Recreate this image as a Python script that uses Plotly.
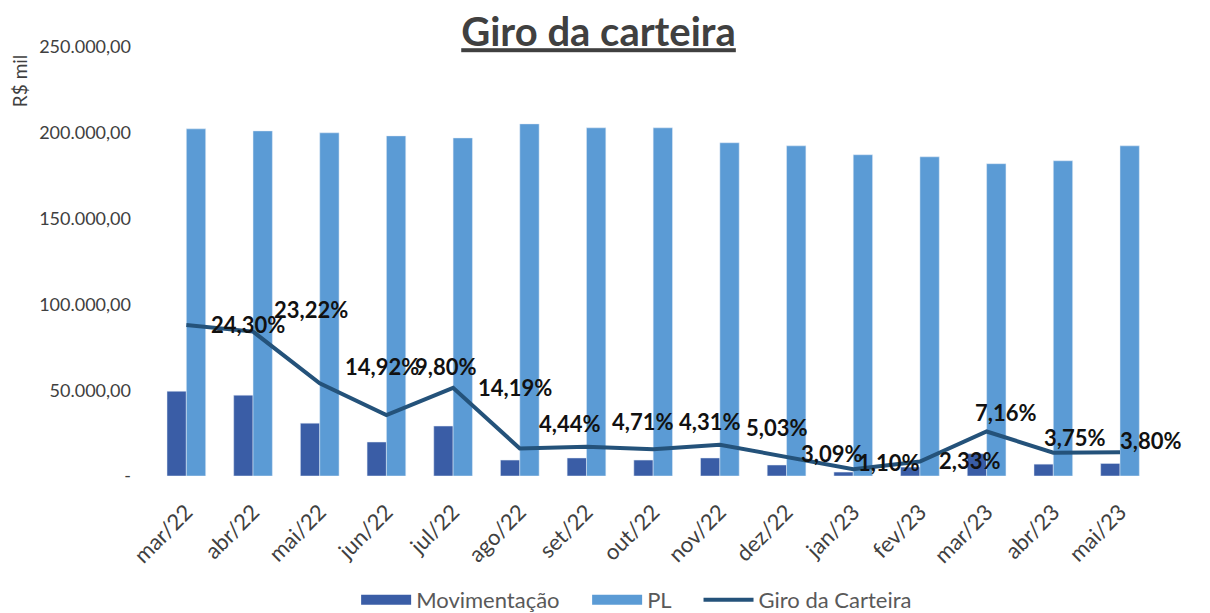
import plotly.graph_objects as go

meses = ["mar/22", "abr/22", "mai/22", "jun/22", "jul/22", "ago/22", "set/22", "out/22",
         "nov/22", "dez/22", "jan/23", "fev/23", "mar/23", "abr/23", "mai/23"]
pl = [202300, 201100, 200000, 198200, 197000, 205200, 202900, 202900,
      194200, 192400, 187200, 186000, 182000, 183700, 192400]
movimentacao = [49400, 47100, 30800, 19800, 29100, 9300, 10500, 9300,
                10500, 6400, 2300, 5200, 13000, 6900, 7300]
giro = [24.30, 23.22, 14.92, 9.80, 14.19, 4.44, 4.71, 4.31, 5.03, 3.09, 1.10, 2.33, 7.16, 3.75, 3.80]
y_ticks = [0, 50000, 100000, 150000, 200000, 250000]
y_tick_labels = ["-", "50.000,00", "100.000,00", "150.000,00", "200.000,00", "250.000,00"]

# label offsets (pixels) relative to each point: (xshift, yshift)
label_offsets = [(24, 0), (20, 22), (24, 17), (28, 49), (24, 0), (18, 25), (25, 25), (25, 28),
                 (25, 17), (13, 3), (4, 7), (18, 1), (-13, 19), (-10, 15), (-1, 12)]

FONT = "Lato, Open Sans, sans-serif"
C_MOV = "#3A5DA6"
C_PL = "#5B9BD5"
C_LINE = "#24527A"
PAD = "\u00a0" * 4

fig = go.Figure()
fig.add_trace(go.Bar(x=meses, y=movimentacao, name="Movimentação", marker_color=C_MOV, showlegend=False))
fig.add_trace(go.Bar(x=meses, y=pl, name="PL", marker_color=C_PL, showlegend=False))
# legend entries drawn as wide blocks
fig.add_trace(go.Scatter(x=[None], y=[None], mode="lines", name="Movimentação" + PAD,
                         line=dict(color=C_MOV, width=14)))
fig.add_trace(go.Scatter(x=[None], y=[None], mode="lines", name="PL" + PAD,
                         line=dict(color=C_PL, width=14)))
fig.add_trace(go.Scatter(x=meses, y=giro, name="Giro da Carteira", mode="lines",
                         line=dict(color=C_LINE, width=4), yaxis="y2"))

for m, g, (dx, dy) in zip(meses, giro, label_offsets):
    fig.add_annotation(x=m, y=g, xref="x", yref="y2",
                       text="<b>" + f"{g:.2f}%".replace(".", ",") + "</b>",
                       showarrow=False, xanchor="left", yanchor="middle", xshift=dx, yshift=dy,
                       borderpad=0,
                       font=dict(family=FONT, size=22, color="#111111"))

fig.update_layout(
    width=1202, height=605,
    paper_bgcolor="white", plot_bgcolor="white",
    margin=dict(l=145, r=28, t=39, b=137, autoexpand=False),
    title=dict(text="<b><u>Giro da carteira</u></b>", x=0.4913, xanchor="center", y=0.96, yanchor="middle",
               font=dict(family=FONT, size=40, color="#404040")),
    barmode="group", bargap=0.42, bargroupgap=0,
    xaxis=dict(tickangle=-45, tickfont=dict(family=FONT, size=22, color="#404040"),
               showline=False, showgrid=False, ticks="", automargin=False,
               ticklabelstandoff=18),
    yaxis=dict(range=[0, 250000], tickvals=y_ticks, ticktext=y_tick_labels, showgrid=False,
               zeroline=False, showline=False, automargin=False,
               tickfont=dict(family=FONT, size=18, color="#404040"),
               ticklabelstandoff=21),
    yaxis2=dict(overlaying="y", range=[0, 69], visible=False),
    legend=dict(orientation="h", x=0.47, xanchor="center", y=-0.289, yanchor="middle",
                font=dict(family=FONT, size=22, color="#595959"),
                itemwidth=50, traceorder="normal"),
    showlegend=True,
)
fig.add_annotation(text="R$ mil", xref="paper", yref="paper", x=-0.129, y=0.921, textangle=-90,
                   xanchor="center", yanchor="middle",
                   showarrow=False, font=dict(family=FONT, size=19, color="#404040"))

fig.write_html("out.html")
